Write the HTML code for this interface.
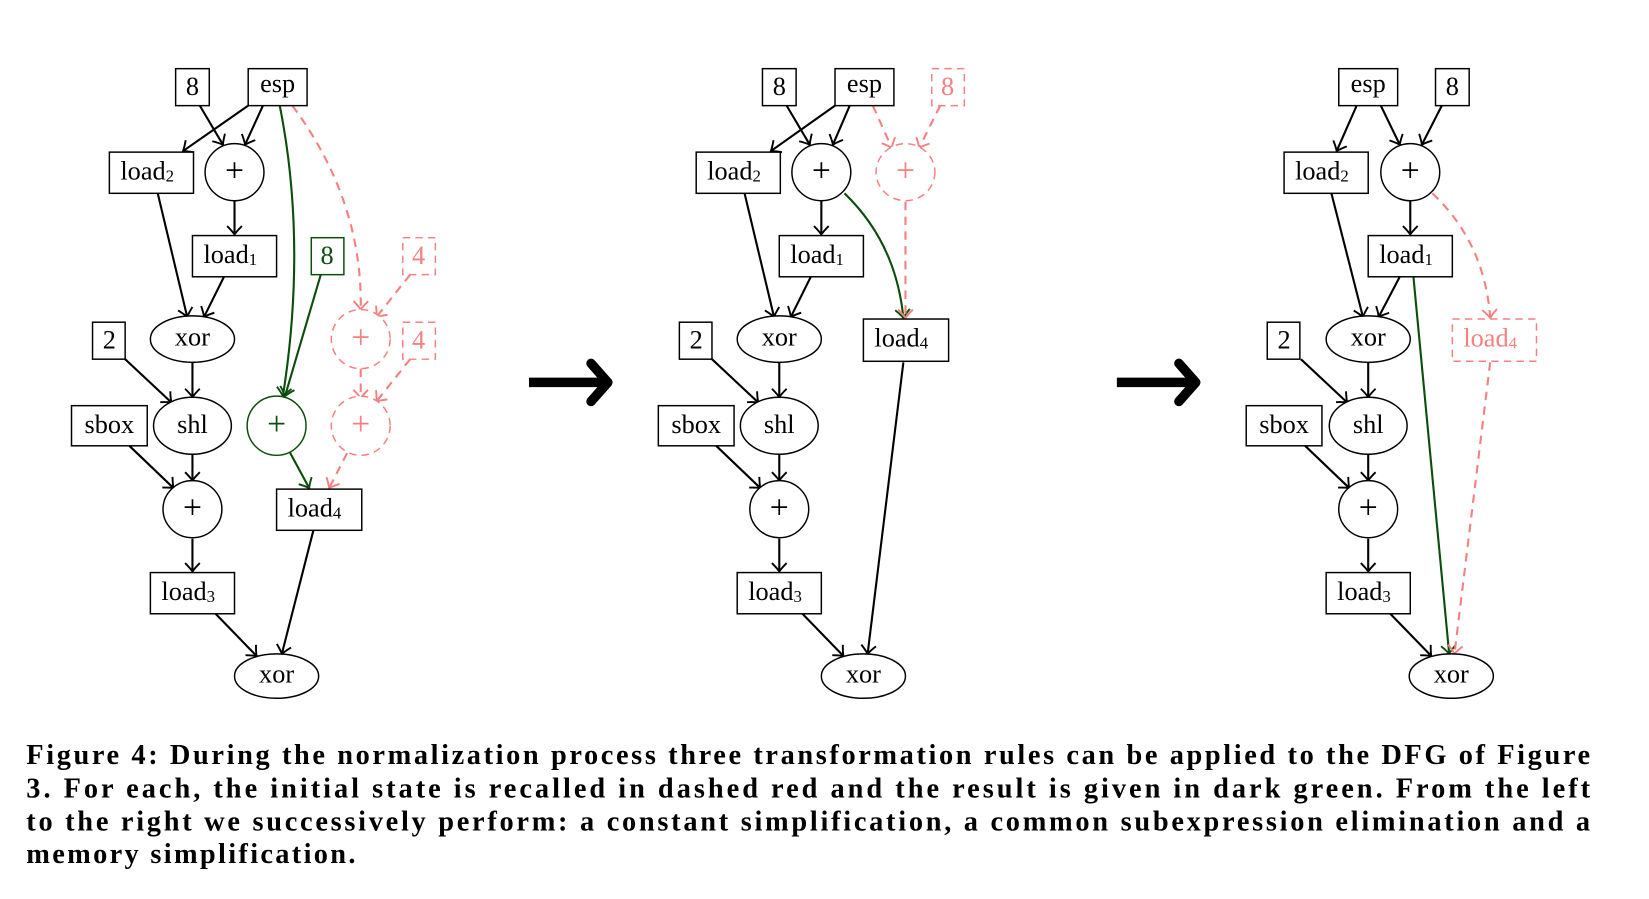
<!DOCTYPE html>
<html><head><meta charset="utf-8"><style>
html,body{margin:0;padding:0;background:#fff}
svg{display:block}
text{font-family:"Liberation Serif",serif}
.n{font-size:25px;text-anchor:middle;dominant-baseline:central}
.p{font-size:32px}
.b{fill:#fff;stroke:#000;stroke-width:1.4}
.e{fill:none;stroke:#000;stroke-width:2}
.g{fill:none;stroke:#0b4d0b;stroke-width:2}
.r{fill:none;stroke:#f58080;stroke-width:2;stroke-dasharray:8,6}
.rb{fill:#fff;stroke:#f58080;stroke-width:1.4;stroke-dasharray:7,5}
.gb{fill:#fff;stroke:#0b4d0b;stroke-width:1.4}
.cap{font-size:27px;font-weight:bold}
</style></head><body>
<svg width="1649" height="899" viewBox="0 0 1568 851" preserveAspectRatio="none" xmlns="http://www.w3.org/2000/svg">
<defs>
<marker id="ak" markerUnits="userSpaceOnUse" markerWidth="20" markerHeight="20" refX="10" refY="10" orient="auto"><path d="M2,3 Q7,8 10,10 Q7,12 2,17" fill="none" stroke="#000" stroke-width="1.8"/></marker>
<marker id="ag" markerUnits="userSpaceOnUse" markerWidth="20" markerHeight="20" refX="10" refY="10" orient="auto"><path d="M2,3 Q7,8 10,10 Q7,12 2,17" fill="none" stroke="#0b4d0b" stroke-width="1.8"/></marker>
<marker id="ar" markerUnits="userSpaceOnUse" markerWidth="20" markerHeight="20" refX="10" refY="10" orient="auto"><path d="M2,3 Q7,8 10,10 Q7,12 2,17" fill="none" stroke="#f58080" stroke-width="1.8"/></marker>
</defs>

<!-- ============ PANEL 1 ============ -->
<g>
<path class="e" marker-end="url(#ak)" d="M236,100 L174,143"/>
<path class="e" marker-end="url(#ak)" d="M250,100 L233,137"/>
<path class="e" marker-end="url(#ak)" d="M190,100 L212,137"/>
<path class="e" marker-end="url(#ak)" d="M223,190 L223,222"/>
<path class="e" marker-end="url(#ak)" d="M150,183 L178,300"/>
<path class="e" marker-end="url(#ak)" d="M213,262 L194,300"/>
<path class="e" marker-end="url(#ak)" d="M183,343 L183,376"/>
<path class="e" marker-end="url(#ak)" d="M119,340 L163,381"/>
<path class="e" marker-end="url(#ak)" d="M183,430 L183,455"/>
<path class="e" marker-end="url(#ak)" d="M123,422 L165,462"/>
<path class="e" marker-end="url(#ak)" d="M183,510 L183,541"/>
<path class="e" marker-end="url(#ak)" d="M205,581 L244,621"/>
<path class="e" marker-end="url(#ak)" d="M298,502 L268,619"/>
<path class="g" marker-end="url(#ag)" d="M266,100 Q292,230 269,375"/>
<path class="g" marker-end="url(#ag)" d="M305,260 L271,375"/>
<path class="g" marker-end="url(#ag)" d="M275,427 L294,462"/>
<path class="r" marker-end="url(#ar)" d="M278,100 Q345,190 343,293"/>
<path class="r" marker-end="url(#ar)" d="M390,260 L358,300"/>
<path class="r" marker-end="url(#ar)" d="M343,349 L343,377"/>
<path class="r" marker-end="url(#ar)" d="M390,340 L358,380"/>
<path class="r" marker-end="url(#ar)" d="M330,429 L313,462"/>

<rect class="b" x="167" y="65" width="32" height="35"/><text class="n" x="183" y="82">8</text>
<rect class="b" x="236" y="65" width="56" height="35"/><text class="n" x="264" y="79">esp</text>
<rect class="b" x="104" y="144" width="80" height="39"/><text class="n" x="140" y="162">load<tspan font-size="16" dy="4">2</tspan></text>
<ellipse class="b" cx="223" cy="163" rx="28" ry="27"/><text class="n p" x="223" y="162">+</text>
<rect class="b" x="183" y="223" width="80" height="39"/><text class="n" x="219" y="241">load<tspan font-size="16" dy="4">1</tspan></text>
<rect class="gb" x="296" y="225" width="31" height="35"/><text class="n" x="311" y="242" fill="#0b4d0b">8</text>
<rect class="rb" x="383" y="225" width="31" height="35"/><text class="n" x="398" y="242" fill="#f58080">4</text>
<ellipse class="b" cx="183" cy="321" rx="40" ry="22"/><text class="n" x="183" y="319">xor</text>
<rect class="b" x="88" y="305" width="31" height="35"/><text class="n" x="104" y="322">2</text>
<ellipse class="rb" cx="343" cy="321" rx="28" ry="28"/><text class="n p" x="343" y="320" fill="#f58080">+</text>
<rect class="rb" x="383" y="305" width="31" height="35"/><text class="n" x="398" y="322" fill="#f58080">4</text>
<rect class="b" x="68" y="384" width="72" height="38"/><text class="n" x="104" y="402">sbox</text>
<ellipse class="b" cx="183" cy="403" rx="37" ry="27"/><text class="n" x="183" y="402">shl</text>
<ellipse class="gb" cx="263" cy="403" rx="28" ry="28"/><text class="n p" x="263" y="402" fill="#0b4d0b">+</text>
<ellipse class="rb" cx="343" cy="403" rx="28" ry="28"/><text class="n p" x="343" y="402" fill="#f58080">+</text>
<ellipse class="b" cx="183" cy="482" rx="28" ry="27"/><text class="n p" x="183" y="481">+</text>
<rect class="b" x="263" y="463" width="81" height="39"/><text class="n" x="299" y="481">load<tspan font-size="16" dy="4">4</tspan></text>
<rect class="b" x="143" y="542" width="80" height="39"/><text class="n" x="179" y="560">load<tspan font-size="16" dy="4">3</tspan></text>
<ellipse class="b" cx="263" cy="640" rx="40" ry="21"/><text class="n" x="263" y="638">xor</text>
</g>

<!-- big arrows -->
<path d="M503,362 L575,362" stroke="#000" stroke-width="9"/>
<path d="M562,344 L578,362 L562,380" fill="none" stroke="#000" stroke-width="9" stroke-linecap="round" stroke-linejoin="round"/>
<path d="M1062,362 L1134,362" stroke="#000" stroke-width="9"/>
<path d="M1121,344 L1137,362 L1121,380" fill="none" stroke="#000" stroke-width="9" stroke-linecap="round" stroke-linejoin="round"/>

<!-- ============ PANEL 2 ============ -->
<g>
<path class="e" marker-end="url(#ak)" d="M794,100 L733,143"/>
<path class="e" marker-end="url(#ak)" d="M808,100 L792,137"/>
<path class="e" marker-end="url(#ak)" d="M748,100 L770,137"/>
<path class="e" marker-end="url(#ak)" d="M781,190 L781,222"/>
<path class="e" marker-end="url(#ak)" d="M708,183 L736,300"/>
<path class="e" marker-end="url(#ak)" d="M771,262 L752,300"/>
<path class="e" marker-end="url(#ak)" d="M741,343 L741,376"/>
<path class="e" marker-end="url(#ak)" d="M677,340 L721,381"/>
<path class="e" marker-end="url(#ak)" d="M741,430 L741,455"/>
<path class="e" marker-end="url(#ak)" d="M681,422 L723,462"/>
<path class="e" marker-end="url(#ak)" d="M741,510 L741,541"/>
<path class="e" marker-end="url(#ak)" d="M763,581 L802,621"/>
<path class="e" marker-end="url(#ak)" d="M859,343 L825,619"/>
<path class="g" marker-end="url(#ag)" d="M803,183 Q852,230 859,301"/>
<path class="r" marker-end="url(#ar)" d="M830,100 L848,140"/>
<path class="r" marker-end="url(#ar)" d="M894,100 L874,140"/>
<path class="r" marker-end="url(#ar)" d="M861,191 L861,301"/>

<rect class="b" x="725" y="65" width="32" height="35"/><text class="n" x="741" y="82">8</text>
<rect class="b" x="794" y="65" width="56" height="35"/><text class="n" x="822" y="79">esp</text>
<rect class="rb" x="886" y="65" width="31" height="35"/><text class="n" x="901" y="82" fill="#f58080">8</text>
<rect class="b" x="662" y="144" width="80" height="39"/><text class="n" x="698" y="162">load<tspan font-size="16" dy="4">2</tspan></text>
<ellipse class="b" cx="781" cy="163" rx="28" ry="27"/><text class="n p" x="781" y="162">+</text>
<ellipse class="rb" cx="861" cy="163" rx="28" ry="27"/><text class="n p" x="861" y="162" fill="#f58080">+</text>
<rect class="b" x="741" y="223" width="80" height="39"/><text class="n" x="777" y="241">load<tspan font-size="16" dy="4">1</tspan></text>
<ellipse class="b" cx="741" cy="321" rx="40" ry="22"/><text class="n" x="741" y="319">xor</text>
<rect class="b" x="646" y="305" width="31" height="35"/><text class="n" x="662" y="322">2</text>
<rect class="b" x="821" y="302" width="81" height="40"/><text class="n" x="857" y="320">load<tspan font-size="16" dy="4">4</tspan></text>
<rect class="b" x="626" y="384" width="72" height="38"/><text class="n" x="662" y="402">sbox</text>
<ellipse class="b" cx="741" cy="403" rx="37" ry="27"/><text class="n" x="741" y="402">shl</text>
<ellipse class="b" cx="741" cy="482" rx="28" ry="27"/><text class="n p" x="741" y="481">+</text>
<rect class="b" x="701" y="542" width="80" height="39"/><text class="n" x="737" y="560">load<tspan font-size="16" dy="4">3</tspan></text>
<ellipse class="b" cx="821" cy="640" rx="40" ry="21"/><text class="n" x="821" y="638">xor</text>
</g>

<!-- ============ PANEL 3 ============ -->
<g>
<path class="e" marker-end="url(#ak)" d="M1290,100 L1271,143"/>
<path class="e" marker-end="url(#ak)" d="M1313,100 L1331,137"/>
<path class="e" marker-end="url(#ak)" d="M1371,100 L1352,137"/>
<path class="e" marker-end="url(#ak)" d="M1341,190 L1341,222"/>
<path class="e" marker-end="url(#ak)" d="M1266,183 L1296,300"/>
<path class="e" marker-end="url(#ak)" d="M1331,262 L1311,300"/>
<path class="e" marker-end="url(#ak)" d="M1301,343 L1301,376"/>
<path class="e" marker-end="url(#ak)" d="M1237,340 L1281,381"/>
<path class="e" marker-end="url(#ak)" d="M1301,430 L1301,455"/>
<path class="e" marker-end="url(#ak)" d="M1241,422 L1283,462"/>
<path class="e" marker-end="url(#ak)" d="M1301,510 L1301,541"/>
<path class="e" marker-end="url(#ak)" d="M1322,581 L1361,621"/>
<path class="g" marker-end="url(#ag)" d="M1344,262 L1378,619"/>
<path class="r" marker-end="url(#ar)" d="M1362,183 Q1412,230 1417,301"/>
<path class="r" marker-end="url(#ar)" d="M1417,343 L1383,619"/>

<rect class="b" x="1273" y="65" width="56" height="35"/><text class="n" x="1301" y="79">esp</text>
<rect class="b" x="1365" y="65" width="32" height="35"/><text class="n" x="1381" y="82">8</text>
<rect class="b" x="1221" y="144" width="80" height="39"/><text class="n" x="1257" y="162">load<tspan font-size="16" dy="4">2</tspan></text>
<ellipse class="b" cx="1341" cy="163" rx="28" ry="27"/><text class="n p" x="1341" y="162">+</text>
<rect class="b" x="1301" y="223" width="80" height="39"/><text class="n" x="1337" y="241">load<tspan font-size="16" dy="4">1</tspan></text>
<ellipse class="b" cx="1301" cy="321" rx="40" ry="22"/><text class="n" x="1301" y="319">xor</text>
<rect class="b" x="1205" y="305" width="31" height="35"/><text class="n" x="1221" y="322">2</text>
<rect class="rb" x="1381" y="302" width="80" height="40"/><text class="n" x="1417" y="320" fill="#f58080">load<tspan font-size="16" dy="4">4</tspan></text>
<rect class="b" x="1185" y="384" width="72" height="38"/><text class="n" x="1221" y="402">sbox</text>
<ellipse class="b" cx="1301" cy="403" rx="37" ry="27"/><text class="n" x="1301" y="402">shl</text>
<ellipse class="b" cx="1301" cy="482" rx="28" ry="27"/><text class="n p" x="1301" y="481">+</text>
<rect class="b" x="1261" y="542" width="80" height="39"/><text class="n" x="1297" y="560">load<tspan font-size="16" dy="4">3</tspan></text>
<ellipse class="b" cx="1380" cy="640" rx="40" ry="21"/><text class="n" x="1380" y="638">xor</text>
</g>

<!-- caption -->
<text class="cap" x="25" y="723" textLength="1487" lengthAdjust="spacing">Figure 4: During the normalization process three transformation rules can be applied to the DFG of Figure</text>
<text class="cap" x="25" y="755" textLength="1487" lengthAdjust="spacing">3.  For each, the initial state is recalled in dashed red and the result is given in dark green.  From the left</text>
<text class="cap" x="25" y="786" textLength="1487" lengthAdjust="spacing">to the right we successively perform: a constant simplification, a common subexpression elimination and a</text>
<text class="cap" x="25" y="817" textLength="313" lengthAdjust="spacing">memory simplification.</text>
</svg>
</body></html>
